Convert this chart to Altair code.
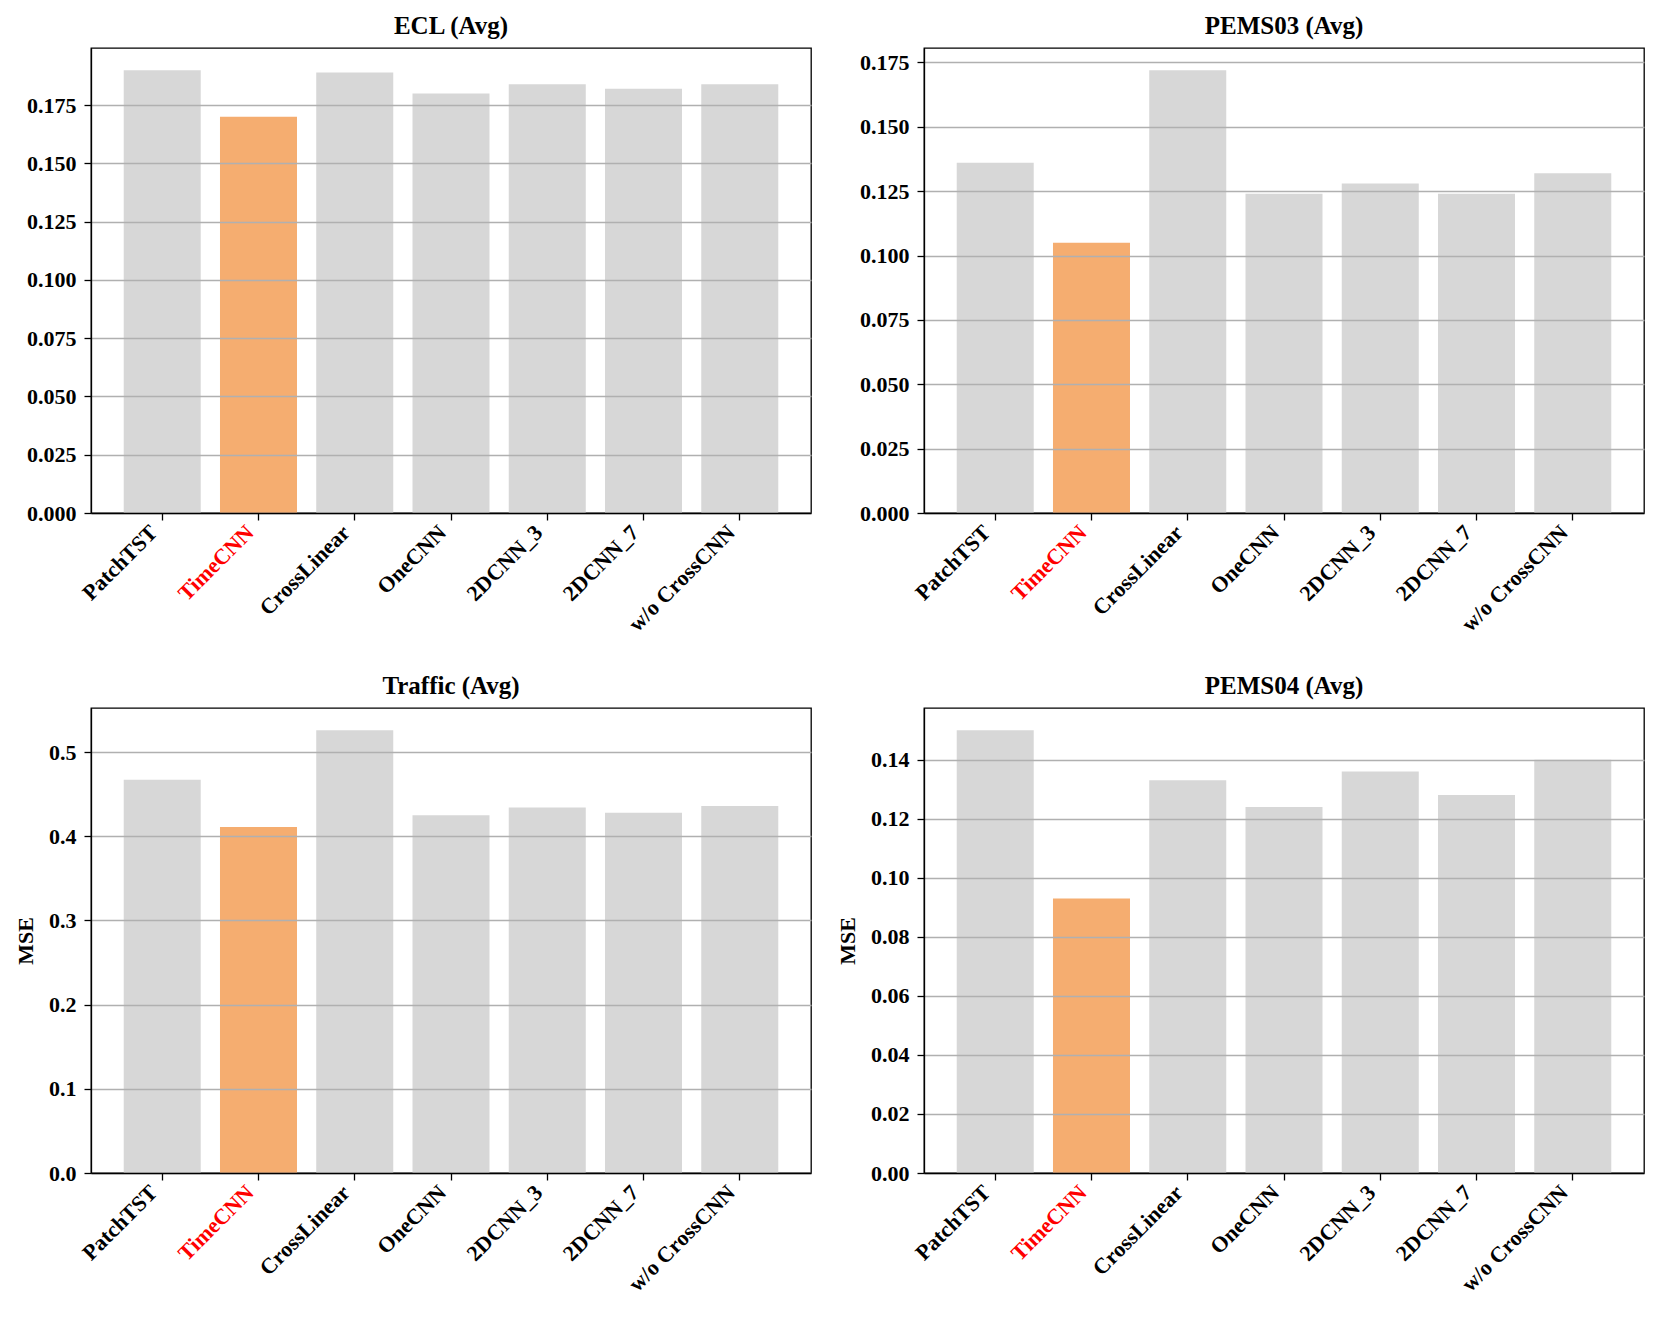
import altair as alt
import pandas as pd

models = ["PatchTST", "TimeCNN", "CrossLinear", "OneCNN", "2DCNN_3", "2DCNN_7", "w/o CrossCNN"]
highlight = "TimeCNN"

ecl_vals = [0.190, 0.170, 0.189, 0.180, 0.184, 0.182, 0.184]
pems03_vals = [0.136, 0.105, 0.172, 0.124, 0.128, 0.124, 0.132]
traffic_vals = [0.467, 0.411, 0.526, 0.425, 0.434, 0.428, 0.436]
pems04_vals = [0.150, 0.093, 0.133, 0.124, 0.136, 0.128, 0.140]

ecl_ticks = [0.000, 0.025, 0.050, 0.075, 0.100, 0.125, 0.150, 0.175]
pems03_ticks = [0.000, 0.025, 0.050, 0.075, 0.100, 0.125, 0.150, 0.175]
traffic_ticks = [0.0, 0.1, 0.2, 0.3, 0.4, 0.5]
pems04_ticks = [0.00, 0.02, 0.04, 0.06, 0.08, 0.10, 0.12, 0.14]

ORANGE = "#F5AD70"
GRAY = "#D7D7D7"
FONT = "Liberation Serif"


def panel(title, values, ticks, fmt, ytitle):
    df = pd.DataFrame({"model": models, "mse": values})
    ymax = max(values) * 1.05
    yaxis_kw = dict(
        values=ticks,
        format=fmt,
        grid=True,
        gridColor="#b0b0b0",
        gridWidth=1.3,
        tickColor="black",
        tickSize=7,
        tickWidth=1.3,
        domainColor="black",
        domainWidth=1.3,
        labelPadding=8,
        labelFontSize=22,
        labelFont=FONT,
        labelFontWeight="bold",
        labelColor="black",
        zindex=1,
    )
    if ytitle:
        y = alt.Y(
            "mse:Q",
            title=ytitle,
            scale=alt.Scale(domain=[0, ymax], nice=False, zero=True),
            axis=alt.Axis(
                titleFont=FONT,
                titleFontSize=22,
                titleFontWeight="bold",
                titleColor="black",
                titlePadding=11,
                **yaxis_kw,
            ),
        )
    else:
        y = alt.Y(
            "mse:Q",
            title=None,
            scale=alt.Scale(domain=[0, ymax], nice=False, zero=True),
            axis=alt.Axis(**yaxis_kw),
        )
    x = alt.X(
        "model:N",
        sort=models,
        title=None,
        scale=alt.Scale(paddingInner=0.2, paddingOuter=0.34),
        axis=alt.Axis(
            labelAngle=-45,
            labelAlign="right",
            labelBaseline="bottom",
            labelPadding=17,
            labelFontSize=22,
            labelFont=FONT,
            labelFontWeight="bold",
            labelOverlap=False,
            labelColor={
                "condition": {"test": "datum.value == '%s'" % highlight, "value": "red"},
                "value": "black",
            },
            tickColor="black",
            tickSize=7,
            tickWidth=1.3,
            domainColor="black",
            domainWidth=1.3,
            grid=False,
            zindex=1,
        ),
    )
    return (
        alt.Chart(
            df,
            title=alt.Title(
                title,
                font=FONT,
                fontSize=25,
                fontWeight="bold",
                color="black",
                offset=9,
            ),
        )
        .mark_bar()
        .encode(
            x=x,
            y=y,
            color=alt.when(alt.datum.model == highlight)
            .then(alt.value(ORANGE))
            .otherwise(alt.value(GRAY)),
        )
        .properties(width=720, height=465)
    )


p1 = panel("ECL (Avg)", ecl_vals, ecl_ticks, ".3f", None)
p2 = panel("PEMS03 (Avg)", pems03_vals, pems03_ticks, ".3f", None)
p3 = panel("Traffic (Avg)", traffic_vals, traffic_ticks, ".1f", "MSE")
p4 = panel("PEMS04 (Avg)", pems04_vals, pems04_ticks, ".2f", "MSE")

chart = (
    alt.concat(p1, p2, p3, p4, columns=2, spacing={"row": 37, "column": 23})
    .configure(background="white")
    .configure_view(stroke="black", strokeWidth=1.3)
)

chart.save("out.html", embed_options={"renderer": "svg", "actions": False})
